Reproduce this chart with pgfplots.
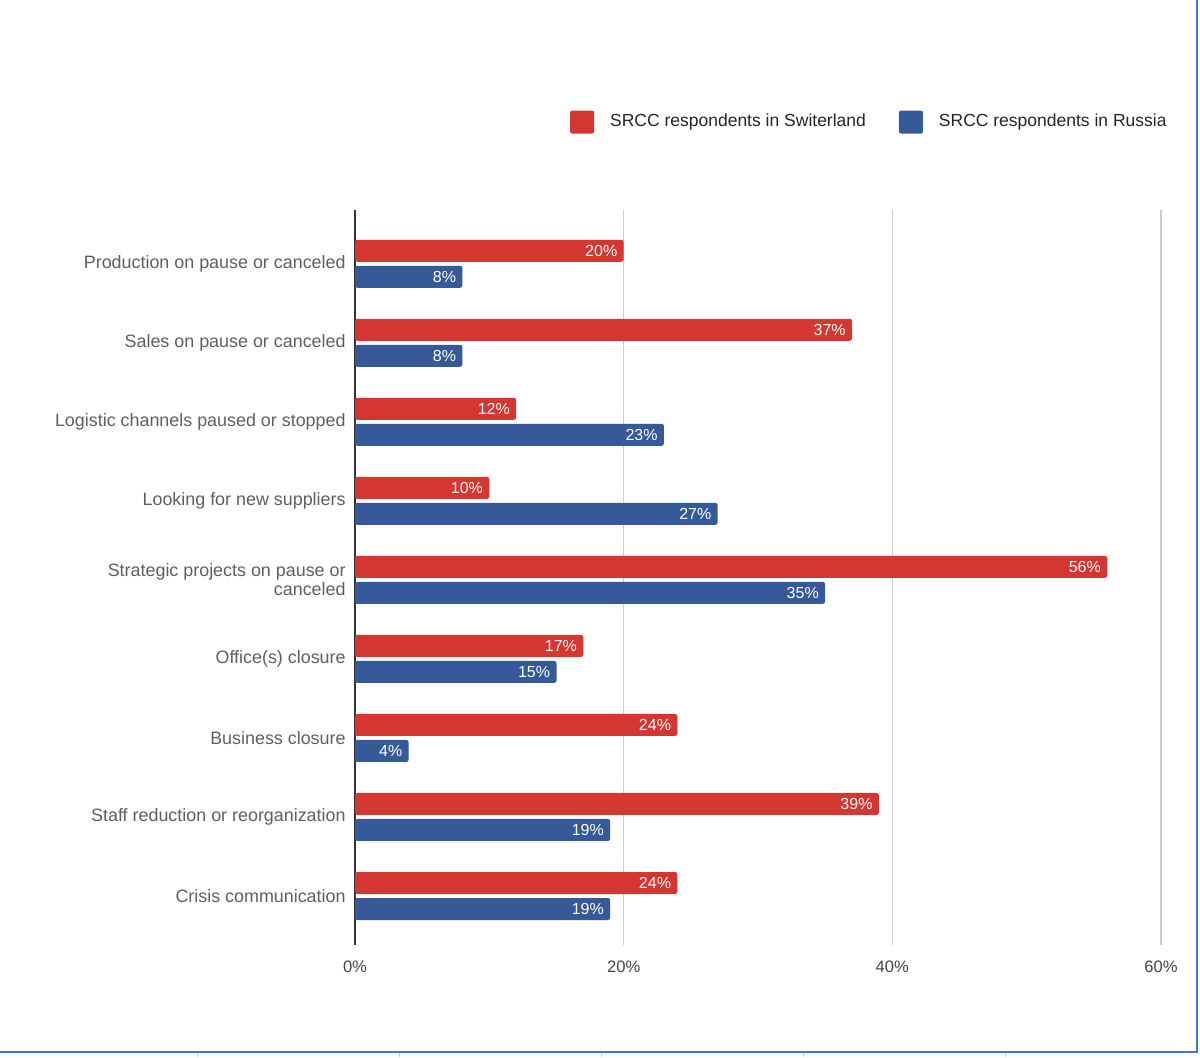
\documentclass[border=0pt]{standalone}
\usepackage{pgfplots}
\pgfplotsset{compat=1.18}
\usepackage{fontspec}
\setmainfont{Liberation Sans}
\definecolor{cred}{HTML}{D43631}
\definecolor{cblue}{HTML}{36599A}
\definecolor{lblgray}{HTML}{5F5F5F}
\definecolor{tickgray}{HTML}{444444}
\definecolor{frameblue}{HTML}{3C78D8}
\begin{document}
\begin{tikzpicture}
\path[use as bounding box] (0,0) rectangle (600pt,528.5pt);
\begin{axis}[
  at={(177.5pt,56pt)}, anchor=south west,
  scale only axis, width=403pt, height=367.5pt,
  xbar, bar width=11pt,
  xmin=0, xmax=60, ymin=-0.68, ymax=8.62, y dir=reverse,
  axis line style={draw=none},
  major tick length=0pt,
  xtick={20,40,60}, xticklabels={20\%,40\%,60\%},
  extra x ticks={0}, extra x tick labels={0\%},
  extra x tick style={grid style={draw=black!80, line width=1pt}},
  xmajorgrids, grid style={draw=black!20, line width=0.75pt},
  xticklabel style={font=\fontsize{8.3pt}{10pt}\selectfont, text=tickgray, inner sep=0pt, yshift=-7.5pt},
  ytick={0,...,8},
  yticklabels={Production on pause or canceled, Sales on pause or canceled, Logistic channels paused or stopped, Looking for new suppliers, {Strategic projects on pause or\\canceled}, Office(s) closure, Business closure, Staff reduction or reorganization, Crisis communication},
  yticklabel style={font=\fontsize{8.95pt}{9.3pt}\selectfont, text=lblgray, align=right, inner sep=0pt, xshift=-4.5pt},
  /pgf/number format/assume math mode=true,
  point meta=x,
  nodes near coords={\pgfmathprintnumber{\pgfplotspointmeta}\%},
  nodes near coords style={anchor=east, inner sep=0pt, xshift=-3pt, text=white, font=\fontsize{8pt}{9pt}\selectfont},
  legend columns=2,
  legend style={draw=none, fill=none, at={(1.0074,1.1197)}, anchor=east, inner sep=0pt,
    font=\fontsize{8.75pt}{10pt}\selectfont, text=black!85,
    nodes={inner sep=0pt}},
  legend image code/.code={\fill[#1, rounded corners=1pt] (0pt,-5.75pt) rectangle (12pt,5.75pt);},
  /tikz/every odd column/.append style={column sep=8pt},
  /tikz/every even column/.append style={column sep=16.5pt},
]
\addplot[fill=cred, draw=none, bar shift=6.5pt, rounded corners=1.2pt] coordinates {
 (20,0) (37,1) (12,2) (10,3) (56,4) (17,5) (24,6) (39,7) (24,8)};
\addplot[fill=cblue, draw=none, bar shift=-6.5pt, rounded corners=1.2pt] coordinates {
 (8,0) (8,1) (23,2) (27,3) (35,4) (15,5) (4,6) (19,7) (19,8)};
\legend{SRCC respondents in Switerland, SRCC respondents in Russia}
\end{axis}
\draw[frameblue, line width=1pt] (0,2.5pt) -- (598.5pt,2.5pt) -- (598.5pt,528.5pt);
\foreach \x in {197,399,601,803,1005} \draw[black!20, line width=0.5pt] (\x*0.5pt,0) -- (\x*0.5pt,2pt);
\end{tikzpicture}
\end{document}
